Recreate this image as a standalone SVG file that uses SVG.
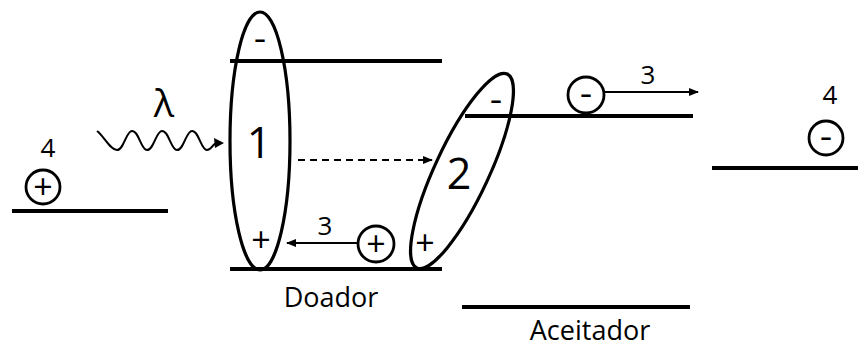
<svg xmlns="http://www.w3.org/2000/svg" width="858" height="349" viewBox="0 0 858 349">
<defs>
<marker id="ah" markerWidth="10" markerHeight="8" refX="9" refY="4" orient="auto" markerUnits="userSpaceOnUse">
<path d="M0,0 L10,4 L0,8 Z" fill="#000"/>
</marker>
</defs>
<style>
.lvl{stroke:#000;stroke-width:4;fill:none}
.ell{stroke:#000;stroke-width:3.2;fill:none}
.ch{stroke:#000;stroke-width:2.8;fill:#fff}
.arr{stroke:#000;stroke-width:1.8;fill:none}
text{font-family:"Open Sans","Liberation Sans",sans-serif;fill:#000;text-anchor:middle}
.n{font-size:26px}
.s{font-size:34px}
.m{font-size:22px;font-weight:bold}
.big{font-size:43px}
.lab{font-size:27px}
</style>
<rect width="858" height="349" fill="#fff"/>
<g id="levels">
<line class="lvl" x1="12" y1="211" x2="168" y2="211"/>
<line class="lvl" x1="230" y1="61" x2="442" y2="61"/>
<line class="lvl" x1="230" y1="269" x2="442" y2="269"/>
<line class="lvl" x1="465" y1="116" x2="693" y2="116"/>
<line class="lvl" x1="462" y1="307" x2="690" y2="307"/>
<line class="lvl" x1="712" y1="168" x2="858" y2="168"/>
</g>
<g id="donor">
<ellipse class="ell" cx="260" cy="141" rx="30" ry="129"/>
<text class="m" x="260" y="47">–</text>
<text class="big" x="259" y="158">1</text>
<text class="s" x="261" y="252">+</text>
</g>
<g id="acceptor">
<ellipse class="ell" cx="462" cy="171" rx="27" ry="107" transform="rotate(25 462 171)"/>
<text class="m" x="496" y="108">–</text>
<text class="big" x="459" y="189">2</text>
<text class="s" x="425" y="255">+</text>
</g>
<g id="hole-left">
<circle class="ch" cx="43" cy="187" r="17"/>
<text class="s" x="43" y="199">+</text>
<text class="n" x="48" y="157">4</text>
</g>
<g id="hole-mid">
<circle class="ch" cx="376" cy="244" r="18"/>
<text class="s" x="376" y="256">+</text>
</g>
<g id="electron-mid">
<circle class="ch" cx="586" cy="95" r="18"/>
<text class="m" x="586" y="102">–</text>
</g>
<g id="electron-right">
<circle class="ch" cx="826" cy="138" r="17"/>
<text class="m" x="826" y="145">–</text>
<text class="n" x="830" y="104">4</text>
</g>
<g id="labels">
<text class="lab" x="331" y="307">Doador</text>
<text class="lab" x="590" y="340">Aceitador</text>
<text x="164" y="117" style="font-size:38px">λ</text>
</g>
<g id="connectors">
<path class="arr" d="M97,131 C104,136 110,150 117,150 C124,150 126,131 132,131 C139,131 141,150 147,150 C154,150 156,131 162,131 C169,131 171,150 177,150 C184,150 186,131 192,131 C199,131 201,150 207,150 C212,150 213,142 218,143" style="stroke-width:2"/>
<path d="M214,138 L224,143 L215,148 Z" fill="#000"/>
<line class="arr" x1="298" y1="160" x2="432" y2="160" stroke-dasharray="7,5" marker-end="url(#ah)"/>
<line class="arr" x1="357" y1="243" x2="287" y2="243" marker-end="url(#ah)"/>
<text class="n" x="325" y="235">3</text>
<line class="arr" x1="604" y1="92" x2="698" y2="92" marker-end="url(#ah)"/>
<text class="n" x="648" y="84">3</text>
</g>
</svg>
